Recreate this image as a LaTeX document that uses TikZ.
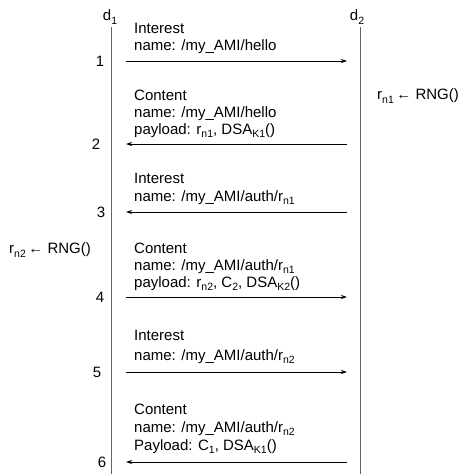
\documentclass[tikz,border=0pt]{standalone}
\usepackage{fontspec}
\setmainfont{Liberation Sans}
\usetikzlibrary{arrows.meta, positioning}
\newcommand{\subtxt}[1]{\raisebox{-3.5pt}{\fontsize{10.5}{10.5}\selectfont #1}}

\begin{document}
\begin{tikzpicture}[x=1pt, y=-1pt,
	font=\fontsize{15}{17}\selectfont,
	lifeline/.style={draw=black!60, line width=1pt},
	msg/.style={draw=black, line width=0.8pt, -{Stealth[length=6pt, width=4pt]}},
	packet/.style={anchor=north west, align=left, inner sep=0pt},
	device/.style={anchor=base, inner sep=0pt},
	num/.style={inner sep=0pt},
	gen/.style={anchor=west, inner sep=0pt}
]
\useasboundingbox (0,0) rectangle (459,474);

% Devices and lifelines
\node[device] (d1) at (110,20.5) {d\subtxt{1}};
\node[device] (d2) at (357,20.5) {d\subtxt{2}};
\coordinate (d1top) at (111,27);
\coordinate (d1bot) at (111,474);
\coordinate (d2top) at (360,27);
\coordinate (d2bot) at (360,474);
\draw[lifeline] (d1top) -- (d1bot);
\draw[lifeline] (d2top) -- (d2bot);

% Message ends and step numbers
\foreach \i/\y/\nx in {1/61/100, 2/144/96, 3/212/101, 4/297/100, 5/372/97, 6/462/102} {
	\coordinate (a\i) at (126,\y);
	\coordinate (b\i) at (347,\y);
	\node[num] (n\i) at (\nx,\y) {\i};
}

% Messages
\draw[msg] (a1) -- (b1);
\draw[msg] (b2) -- (a2);
\draw[msg] (b3) -- (a3);
\draw[msg] (a4) -- (b4);
\draw[msg] (a5) -- (b5);
\draw[msg] (b6) -- (a6);

% Packet contents
\node[packet] (p1) at (134,22.7) {Interest\\name: /my\_AMI/hello};
\node[packet] (p2) at (134,89.5) {Content\\name: /my\_AMI/hello\\payload: r\subtxt{n1}, DSA\subtxt{K1}()};
\node[packet] (p3) at (134,172.7) {Interest\\[1pt]name: /my\_AMI/auth/r\subtxt{n1}};
\node[packet] (p4) at (134,242.5) {Content\\name: /my\_AMI/auth/r\subtxt{n1}\\payload: r\subtxt{n2}, C\subtxt{2}, DSA\subtxt{K2}()};
\node[packet] (p5) at (134,329.7) {Interest\\[3pt]name: /my\_AMI/auth/r\subtxt{n2}};
\node[packet] (p6) at (134,403.5) {Content\\[1pt]name: /my\_AMI/auth/r\subtxt{n2}\\[1pt]Payload: C\subtxt{1}, DSA\subtxt{K1}()};

% Random numbers
\node[gen] (g1) at (377,96) {r\subtxt{n1}\,← RNG()};
\node[gen] (g2) at (9,250) {r\subtxt{n2}\,← RNG()};

\end{tikzpicture}
\end{document}
